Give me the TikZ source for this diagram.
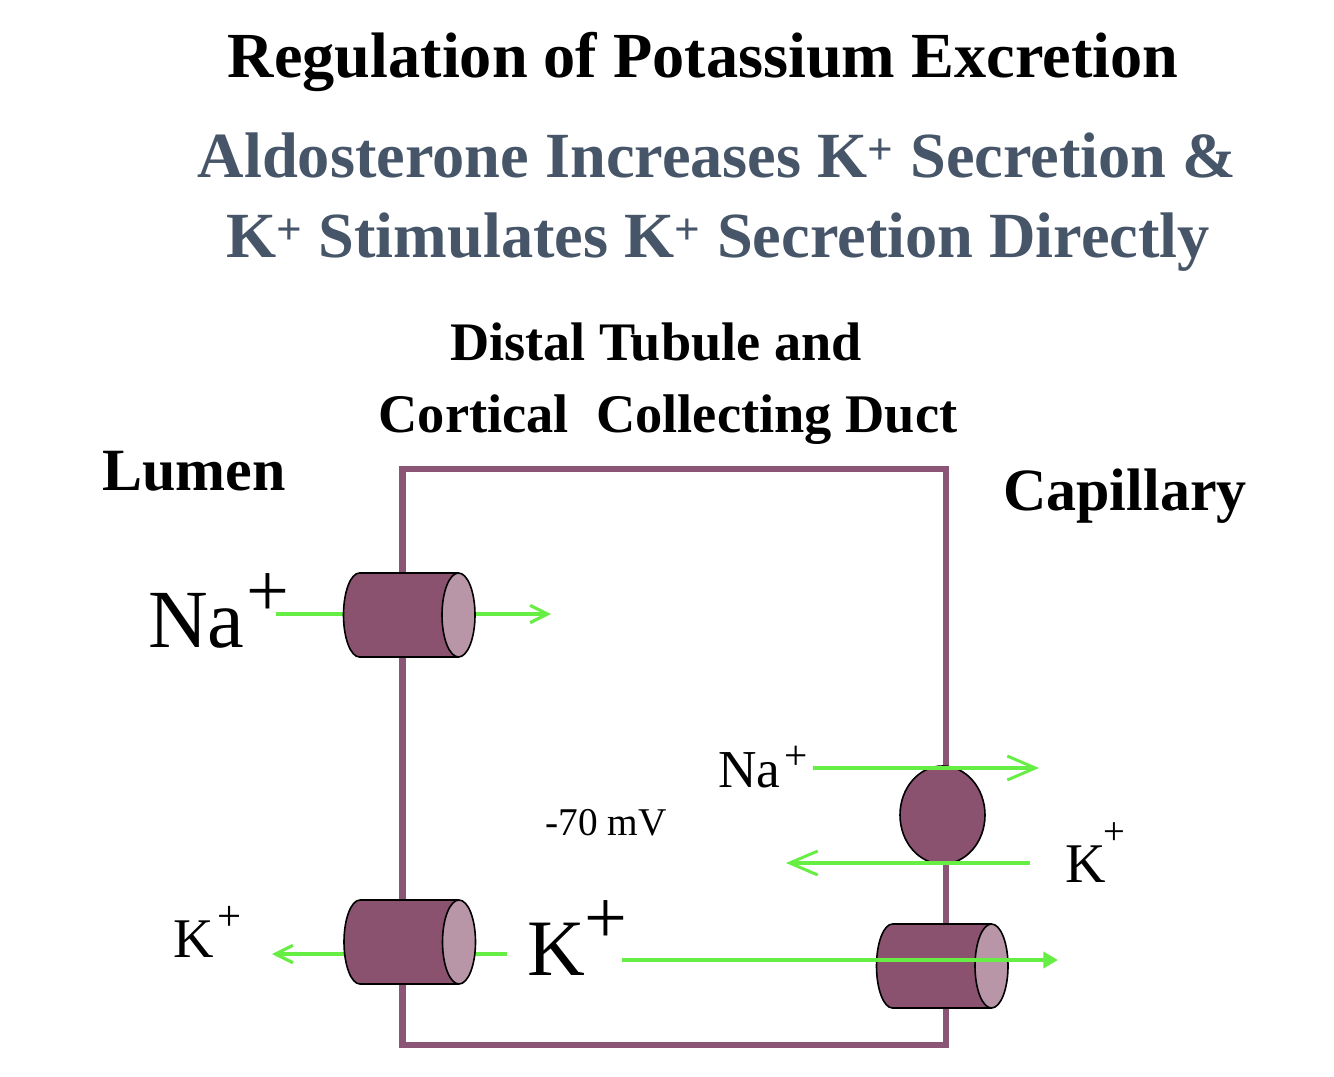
\documentclass[tikz,border=0pt]{standalone}
\usepackage{fontspec}
\setmainfont{Liberation Serif}
\usetikzlibrary{arrows.meta,shapes.geometric}
\definecolor{memb}{HTML}{8B5575}
\definecolor{chbody}{HTML}{8B5270}
\definecolor{chcap}{HTML}{B896A8}
\definecolor{ion}{HTML}{66EE44}
\definecolor{subt}{HTML}{475569}
\newcommand{\fsz}[1]{\fontsize{#1}{#1}\selectfont}
\tikzset{
  txt/.style={inner sep=0pt, anchor=base west},
  plus/.style={inner sep=0pt, anchor=center},
  flow/.style={draw=ion, line width=2.6pt},
  chev/.style={flow, -{Straight Barb[length=#1, width=#1, line width=2.4pt]}},
  channel/.pic={
    \fill[chbody, draw=black, line width=1.2pt] (-99,0) ellipse [x radius=16, y radius=42];
    \fill[chbody] (-99,-42) rectangle (0,42);
    \draw[black, line width=1.2pt] (-99,-42) -- (0,-42) (-99,42) -- (0,42);
    \fill[chcap, draw=black, line width=1.2pt] (0,0) ellipse [x radius=16.5, y radius=42];
  }
}
\begin{document}
\begin{tikzpicture}[x=0.75pt, y=-0.75pt]
\useasboundingbox[fill=white] (0,0) rectangle (1334,1077);
% titles
\node[inner sep=0pt, anchor=base, font=\bfseries\fsz{48.2}] (title) at (703,78) {Regulation of Potassium Excretion};
\node[inner sep=0pt, anchor=base, font=\bfseries\fsz{48.3}, text=subt] (sub1) at (717,177) {Aldosterone Increases K\textsuperscript{+} Secretion \&};
\node[inner sep=0pt, anchor=base, font=\bfseries\fsz{48.3}, text=subt] (sub2) at (718,257) {K\textsuperscript{+} Stimulates K\textsuperscript{+} Secretion Directly};
\node[inner sep=0pt, anchor=base, font=\bfseries\fsz{40.7}] (dist1) at (656,360) {Distal Tubule and};
\node[inner sep=0pt, anchor=base, font=\bfseries\fsz{40.8}] (dist2) at (668,432) {Cortical\ \ Collecting Duct};
\node[txt, font=\bfseries\fsz{45}] (lumen) at (102,490) {Lumen};
\node[txt, font=\bfseries\fsz{45}] (cap) at (1003,510) {Capillary};
% cell membrane
\draw[memb, line width=5pt] (402.5,469) rectangle (946,1045);
% coordinates for flows
\coordinate (naLa) at (276,614);
\coordinate (naLb) at (551,614);
\coordinate (kLa) at (507,954);
\coordinate (kLb) at (272,954);
% flows behind lumen channels
\draw[chev=13pt] (naLa) -- (naLb);
\draw[chev=13pt] (kLa) -- (kLb);
% channels
\pic (ch1) at (458.5,615) {channel};
\pic (ch2) at (459,942) {channel};
\pic (ch3) at (991.5,966) {channel};
% pump
\node[draw=black, fill=chbody, line width=1.2pt, ellipse, minimum width=63.75pt, minimum height=73.5pt, inner sep=0pt] (pump) at (942.5,815) {};
% pump and capillary flows
\coordinate (naPa) at (813,768);
\coordinate (naPb) at (1039,768);
\coordinate (kPa) at (1030,863);
\coordinate (kPb) at (786,863);
\coordinate (kBa) at (622,960);
\coordinate (kBb) at (1058,960);
\draw[flow, -{Straight Barb[length=21pt, width=18pt, line width=2.2pt]}] (naPa) -- (naPb);
\draw[flow, -{Straight Barb[length=21pt, width=18pt, line width=2.2pt]}] (kPa) -- (kPb);
\draw[flow, line width=3pt, -{Triangle[length=11pt, width=12pt]}] (kBa) -- (kBb);
% ion labels
\node[txt, font=\fsz{62}] (naBig) at (148,647) {Na};
\node[plus, font=\fsz{57}] (naBigP) at (268,595) {+};
\node[txt, font=\fsz{60}] (kBig) at (527,975) {K};
\node[plus, font=\fsz{57}] (kBigP) at (606,922) {+};
\node[txt, font=\fsz{42}] (kSm) at (173,957) {K};
\node[plus, font=\fsz{32}] (kSmP) at (230,918) {+};
\node[txt, font=\fsz{40}] (naMid) at (718,787) {Na};
\node[plus, font=\fsz{31}] (naMidP) at (796,758) {+};
\node[txt, font=\fsz{42}] (kR) at (1065,882) {K};
\node[plus, font=\fsz{29}] (kRP) at (1114,834) {+};
\node[txt, font=\fsz{29.5}] (mv) at (545,835) {-70 mV};
\end{tikzpicture}
\end{document}
